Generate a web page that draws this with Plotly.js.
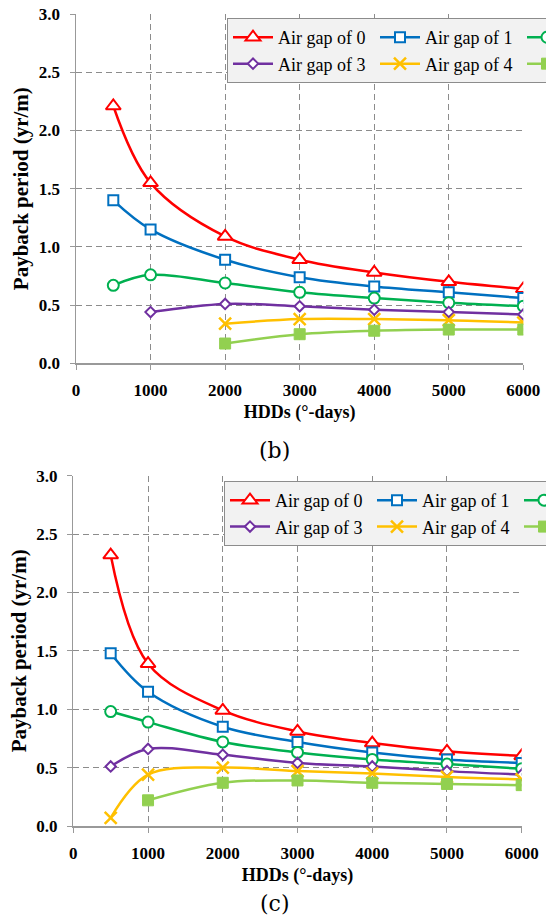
<!DOCTYPE html>
<html><head><meta charset="utf-8">
<script src="https://cdn.plot.ly/plotly-3.0.1.min.js"></script>
<style>html,body{margin:0;padding:0;background:#fff}#chart{width:546px;height:922px}</style>
</head><body><div id="chart"></div>
<script>
// HDDs (°-days)
const HDD = [500, 1000, 2000, 3000, 4000, 5000, 6000];
const seriesNames = ["Air gap of 0", "Air gap of 1", "Air gap of 2", "Air gap of 3", "Air gap of 4", "Air gap of 5"];

// Panel (b) payback period (yr/m)
const b_gap0 = [2.21, 1.55, 1.09, 0.89, 0.78, 0.70, 0.64];
const b_gap1 = [1.40, 1.15, 0.89, 0.74, 0.66, 0.61, 0.56];
const b_gap2 = [0.67, 0.76, 0.69, 0.61, 0.56, 0.52, 0.49];
const b_gap3 = [null, 0.44, 0.51, 0.49, 0.46, 0.44, 0.42];
const b_gap4 = [null, null, 0.34, 0.38, 0.38, 0.37, 0.35];
const b_gap5 = [null, null, 0.17, 0.25, 0.28, 0.29, 0.29];

// Panel (c) payback period (yr/m)
const c_gap0 = [2.32, 1.39, 0.99, 0.81, 0.71, 0.64, 0.60];
const c_gap1 = [1.48, 1.15, 0.85, 0.72, 0.63, 0.57, 0.54];
const c_gap2 = [0.98, 0.89, 0.72, 0.63, 0.57, 0.53, 0.49];
const c_gap3 = [0.51, 0.66, 0.61, 0.54, 0.51, 0.47, 0.44];
const c_gap4 = [0.07, 0.44, 0.50, 0.47, 0.45, 0.42, 0.40];
const c_gap5 = [null, 0.22, 0.37, 0.39, 0.37, 0.36, 0.35];

const panelLabels = ["(b)", "(c)"];
const xTitle = "HDDs (°-days)";
const yTitle = "Payback period (yr/m)";

const colors = ["#FF0000", "#0070C0", "#00B050", "#7030A0", "#FFC000", "#92D050"];
const markerStyles = [
  {symbol: "triangle-up", size: 13, color: "white", line: {color: colors[0], width: 2}},
  {symbol: "square", size: 10, color: "white", line: {color: colors[1], width: 2}},
  {symbol: "circle", size: 11, color: "white", line: {color: colors[2], width: 2}},
  {symbol: "diamond", size: 8, color: "white", line: {color: colors[3], width: 2}},
  {symbol: "x-thin-open", size: 12, color: colors[4], line: {color: colors[4], width: 2.5}},
  {symbol: "square", size: 11, color: colors[5], line: {color: colors[5], width: 1}}
];

const panelB = [b_gap0, b_gap1, b_gap2, b_gap3, b_gap4, b_gap5];
const panelC = [c_gap0, c_gap1, c_gap2, c_gap3, c_gap4, c_gap5];

const traces = [];
[panelB, panelC].forEach((panel, p) => {
  panel.forEach((ys, i) => {
    traces.push({
      type: "scatter", mode: "lines+markers",
      x: HDD, y: ys, name: seriesNames[i],
      xaxis: p === 0 ? "x" : "x2", yaxis: p === 0 ? "y" : "y2",
      legend: p === 0 ? "legend" : "legend2",
      line: {color: colors[i], width: 2.5, shape: "spline", smoothing: 1},
      marker: markerStyles[i],
      hoverinfo: "x+y"
    });
  });
});

const serif = "'Times New Roman', 'Liberation Serif', serif";
const tickFont = {family: serif, size: 17, color: "#000", weight: "bold"};
const xTitleFont = {family: serif, size: 18, color: "#000", weight: "bold"};
const yTitleFont = {family: serif, size: 21, color: "#000", weight: "bold"};
const gridCol = "#8c8c8c";

function xAxis(domain, anchor) {
  return {
    domain: domain, anchor: anchor, range: [0, 6000], tickvals: [0,1000,2000,3000,4000,5000,6000],
    ticktext: ["0","1000","2000","3000","4000","5000","6000"],
    showline: true, linecolor: "#999", linewidth: 1.5, ticks: "outside", ticklen: 5, tickcolor: "#999",
    showgrid: true, gridcolor: gridCol, griddash: "6px,4px", gridwidth: 1, zeroline: false,
    tickfont: tickFont, ticklabelstandoff: 6,
    title: {text: xTitle, font: xTitleFont, standoff: 6}
  };
}
function yAxis(domain, anchor) {
  return {
    domain: domain, anchor: anchor, range: [0, 3], tickvals: [0,0.5,1,1.5,2,2.5,3],
    ticktext: ["0.0","0.5","1.0","1.5","2.0","2.5","3.0"],
    showline: true, linecolor: "#999", linewidth: 1.5, ticks: "outside", ticklen: 5, tickcolor: "#999",
    showgrid: true, gridcolor: gridCol, griddash: "6px,4px", gridwidth: 1, zeroline: false,
    tickfont: tickFont, ticklabelstandoff: 6,
    title: {text: yTitle, font: yTitleFont, standoff: 4}
  };
}
function legendCfg(x, y) {
  return {
    x: x, y: y, xanchor: "center", yanchor: "top", orientation: "h",
    entrywidth: 92, itemwidth: 40, bgcolor: "#f2f2f2", bordercolor: "#8c8c8c", borderwidth: 1,
    font: {family: serif, size: 18, color: "#000"}, traceorder: "normal", tracegroupgap: 0
  };
}

const layout = {
  width: 546, height: 922,
  margin: {l: 73, r: 22, t: 14, b: 96, autoexpand: false},
  paper_bgcolor: "#fff", plot_bgcolor: "#fff",
  showlegend: true,
  xaxis: xAxis([0.0067, 0.9985], "y"),
  yaxis: yAxis([0.5698, 1.0], "x"),
  xaxis2: xAxis([0.0007, 0.9949], "y2"),
  yaxis2: yAxis([0.0, 0.4314], "x2"),
  legend: legendCfg(0.666, 0.995),
  legend2: legendCfg(0.660, 0.4249),
  annotations: [
    {text: panelLabels[0], xref: "paper", yref: "paper", x: 0.447, y: 0.4630, xanchor: "center", yanchor: "middle", showarrow: false, font: {family: "DejaVu Serif", size: 22, color: "#000"}},
    {text: panelLabels[1], xref: "paper", yref: "paper", x: 0.447, y: -0.0960, xanchor: "center", yanchor: "middle", showarrow: false, font: {family: "DejaVu Serif", size: 22, color: "#000"}}
  ]
};

// target left edges (px) of the two legend boxes
const legendTargets = [["legend", "g.legend", 227], ["legend2", "g.legend2", 224]];

Plotly.newPlot("chart", traces, layout, {displayModeBar: false, staticPlot: true}).then(async gd => {
  for (let pass = 0; pass < 3; pass++) {
    const upd = {};
    legendTargets.forEach(([key, sel, target]) => {
      const g = gd.querySelector(sel);
      if (!g) return;
      const m = /translate\(\s*([-\d.]+)/.exec(g.getAttribute("transform") || "");
      if (!m) return;
      const dx = target - parseFloat(m[1]);
      if (Math.abs(dx) > 0.5) upd[key + ".x"] = gd._fullLayout[key].x + dx / gd._fullLayout._size.w;
    });
    if (!Object.keys(upd).length) break;
    await Plotly.relayout(gd, upd);
  }
});
</script>
</body></html>
